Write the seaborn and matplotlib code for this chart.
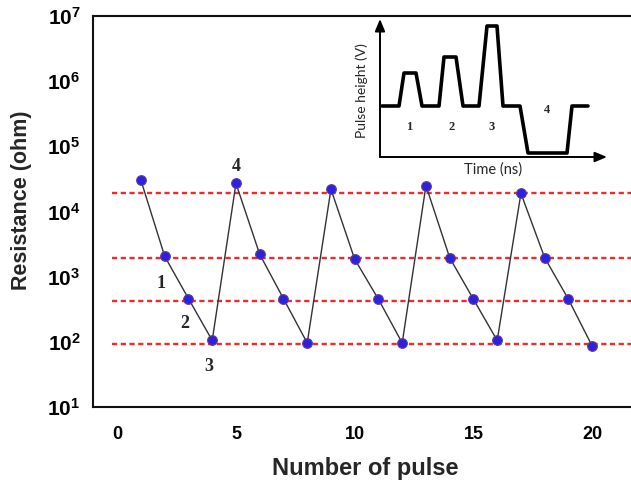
import matplotlib
matplotlib.use("Agg")
import matplotlib.pyplot as plt
import seaborn as sns
import numpy as np
import pandas as pd

# ---- data ----
pulse_number = list(range(1, 21))
resistance = [3.0e4, 2.05e3, 460, 105,
              2.7e4, 2.2e3, 460, 96,
              2.2e4, 1.85e3, 450, 96,
              2.5e4, 1.95e3, 450, 105,
              1.9e4, 1.95e3, 450, 86]
reference_levels = [1.95e4, 1.95e3, 420, 93]
state_labels = ["1", "2", "3", "4"]
state_label_x = [2, 3, 4, 5]
y_tick_exponents = [1, 2, 3, 4, 5, 6, 7]
x_ticks = [0, 5, 10, 15, 20]

# inset waveform (arbitrary units)
wave_time = [2, 19, 24, 36, 42, 59, 64, 76, 83, 99, 107, 117, 123, 140, 148, 187, 192, 208]
wave_volt = [51, 51, 84, 84, 51, 51, 100, 100, 51, 51, 131, 131, 51, 51, 4, 4, 51, 51]
inset_label_t = [29, 72, 112, 167]
inset_label_v = [30, 30, 30, 47]

sns.set_theme(style="white")
plt.rcParams["font.family"] = ["Liberation Sans", "DejaVu Sans"]
plt.rcParams["mathtext.fontset"] = "custom"
plt.rcParams["mathtext.rm"] = "Liberation Sans:bold"
plt.rcParams["mathtext.bf"] = "Liberation Sans:bold"

W, H = 631, 486
fig = plt.figure(figsize=(W / 100, H / 100), dpi=100)
ax = fig.add_axes([93 / W, 1 - 407 / H, 1 - 93 / W + 0.01, (407 - 16) / H])

df = pd.DataFrame({"pulse": pulse_number, "R": resistance})
sns.lineplot(data=df, x="pulse", y="R", ax=ax, color="#333333", lw=1.0,
             marker="o", markersize=7, markerfacecolor="#2a22dd",
             markeredgecolor="#6a3a9a", markeredgewidth=0.8, zorder=3)

for lvl in reference_levels:
    ax.hlines(lvl, -0.2, 23, colors="#ee2a2a", linestyles=(0, (2.2, 1.5)), lw=1.7, zorder=2)

ax.set_yscale("log")
ax.set_ylim(10, 1e7)
ax.set_xlim(-1.02, 21.9)
ax.set_yticks([10.0 ** e for e in y_tick_exponents])
ax.set_yticklabels([r"$\mathbf{10^{%d}}$" % e for e in y_tick_exponents], fontsize=15)
ax.yaxis.set_minor_locator(matplotlib.ticker.NullLocator())
ax.set_xticks(x_ticks)
ax.set_xticklabels([str(t) for t in x_ticks], fontsize=13, fontweight="bold")
ax.tick_params(axis="both", direction="in", length=5, width=1.2, colors="black")
ax.tick_params(axis="y", pad=9)
ax.tick_params(axis="x", pad=14)
for s in ["left", "bottom", "top"]:
    ax.spines[s].set_linewidth(1.5)
    ax.spines[s].set_color("#111111")
ax.spines["right"].set_visible(False)

ax.set_xlabel("Number of pulse", fontsize=17, fontweight="bold", labelpad=10)
ax.set_ylabel("Resistance (ohm)", fontsize=15.5, fontweight="bold")
ax.yaxis.set_label_coords(-0.112, 0.529)

# state labels near first cycle
label_offsets = [0.38, 0.42, 0.40, 1.8]  # multiplicative in log space
for lab, xx, fac in zip(state_labels, state_label_x, label_offsets):
    yv = resistance[xx - 1]
    ax.text(xx - 0.15 if lab != "4" else xx, yv * fac, lab,
            fontsize=13, fontweight="bold", family=["Liberation Serif", "DejaVu Serif"],
            ha="center", va="center")

# ---- inset ----
ix0, ix1, iy0, iy1 = 380, 608, 18, 157
iax = fig.add_axes([ix0 / W, 1 - iy1 / H, (ix1 - ix0) / W, (iy1 - iy0) / H])
iax.set_xlim(0, ix1 - ix0)
iax.set_ylim(0, iy1 - iy0)
iax.axis("off")
iax.patch.set_alpha(0)
sns.lineplot(x=wave_time, y=wave_volt, ax=iax, color="black", lw=2.6, sort=False,
             estimator=None)
arrow = dict(arrowstyle="-|>,head_length=0.6,head_width=0.25", color="black", lw=1.4,
             shrinkA=0, shrinkB=0)
iax.annotate("", xy=(ix1 - ix0 - 1, 0), xytext=(0, 0), arrowprops=arrow)
iax.annotate("", xy=(0, iy1 - iy0 - 1), xytext=(0, 0), arrowprops=arrow)
for lab, tt, vv in zip(state_labels, inset_label_t, inset_label_v):
    iax.text(tt, vv, lab, fontsize=9, fontweight="bold",
             family=["Liberation Serif", "DejaVu Serif"], ha="center", va="center")
iax.text(-18, (iy1 - iy0) / 2 - 3, "Pulse height (V)", rotation=90, fontsize=10,
         family=["Lato", "DejaVu Sans"], ha="center", va="center")
iax.text(113, -13, "Time (ns)", fontsize=10.5, family=["Lato", "DejaVu Sans"],
         ha="center", va="center")

fig.savefig("out.png", dpi=100)
